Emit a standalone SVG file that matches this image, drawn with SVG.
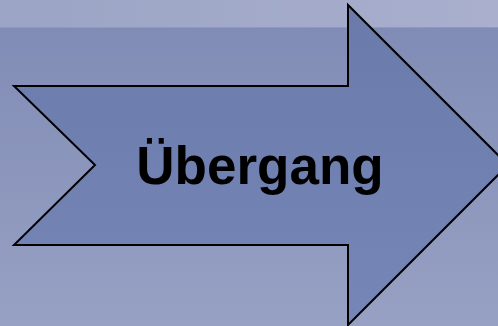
<svg xmlns="http://www.w3.org/2000/svg" width="498" height="326" viewBox="0 0 498 326">
  <defs>
    <linearGradient id="bgMain" x1="0" y1="0" x2="0" y2="1">
      <stop offset="0" stop-color="#7f8ab5"/>
      <stop offset="1" stop-color="#97a1c3"/>
    </linearGradient>
    <linearGradient id="bgBand" x1="0" y1="0" x2="1" y2="0">
      <stop offset="0" stop-color="#9ba4c5"/>
      <stop offset="1" stop-color="#a9afcd"/>
    </linearGradient>
    <linearGradient id="arrowFill" x1="0" y1="0" x2="0" y2="1">
      <stop offset="0" stop-color="#6a7aab"/>
      <stop offset="1" stop-color="#7686b6"/>
    </linearGradient>
    <style>
      .shape { fill: url(#arrowFill); stroke: #000; stroke-width: 2; stroke-linejoin: miter; }
      .label { font-family: "Liberation Sans", Arial, sans-serif; font-weight: bold; font-size: 53px; fill: #000; text-anchor: middle; }
    </style>
  </defs>

  <!-- background -->
  <rect x="0" y="0" width="498" height="326" fill="url(#bgMain)"/>
  <rect x="0" y="0" width="498" height="28" fill="url(#bgBand)"/>
  <rect x="0" y="27" width="498" height="1" fill="#8f98bd"/>

  <g id="connectors"></g>

  <!-- notched block arrow -->
  <g id="uebergang">
    <path class="shape" d="M14,86 L348,86 L348,5 L508,165 L348,325 L348,245 L14,245 L95,165 Z"/>
    <text class="label" x="260" y="184">Übergang</text>
  </g>
</svg>
